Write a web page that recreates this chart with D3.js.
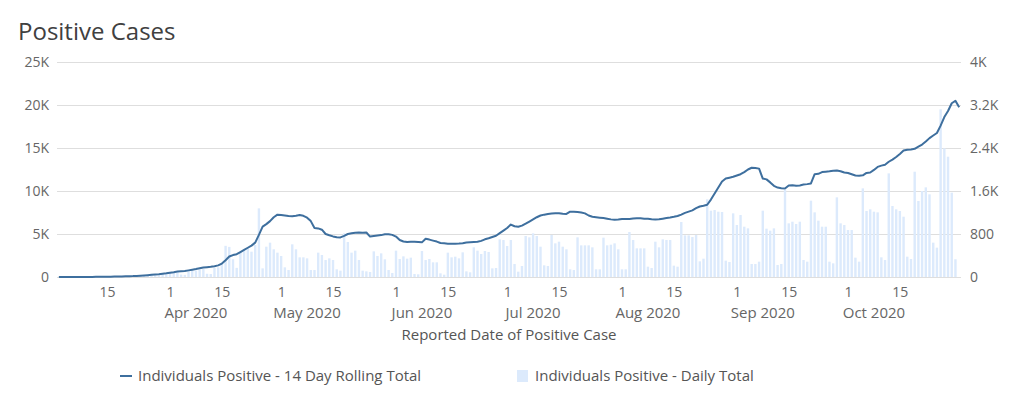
<!DOCTYPE html>
<html lang="en">

<head>
    <meta charset="utf-8" />
    <title>Positive Cases</title>
    <script src="https://cdnjs.cloudflare.com/ajax/libs/d3/7.8.5/d3.min.js"></script>
    <style>
        body { margin: 0; background: #fff; }
        text { font-family: 'Open Sans', sans-serif; }
    </style>
</head>

<body>
    <div id='chart'></div>
</body>
<script>

    // daily total (right axis), one value per day from Mar 2 2020
    let daily = [
        0, 1, 0, 2, 1, 0, 1, 2, 3, 3,
        5, 6, 4, 3, 8, 10, 12, 15, 18, 10,
        9, 25, 30, 38, 45, 52, 30, 28, 70, 75,
        85, 80, 95, 45, 40, 110, 125, 120, 140, 150,
        60, 55, 170, 180, 250, 580, 560, 330, 170, 471,
        502, 533, 471, 595, 1277, 161, 564, 639, 515, 453,
        391, 180, 130, 608, 515, 366, 366, 347, 130, 130,
        453, 409, 316, 347, 316, 143, 118, 812, 651, 453,
        490, 316, 118, 105, 93, 477, 391, 440, 329, 130,
        74, 490, 335, 384, 341, 360, 56, 50, 484, 316,
        335, 273, 273, 68, 43, 453, 366, 378, 347, 459,
        105, 87, 552, 490, 428, 484, 465, 161, 167, 700,
        688, 577, 688, 242, 99, 205, 763, 738, 812, 763,
        564, 217, 205, 781, 626, 657, 564, 515, 143, 130,
        738, 589, 589, 589, 552, 143, 143, 732, 589, 601,
        626, 515, 143, 143, 837, 688, 533, 533, 533, 192,
        167, 657, 552, 701, 688, 688, 211, 192, 1023, 775,
        775, 744, 781, 291, 341, 1445, 1234, 1246, 1215, 1209,
        304, 279, 1184, 967, 1153, 936, 905, 242, 242, 285,
        1234, 899, 862, 905, 223, 242, 1618, 998, 1029, 986,
        1029, 316, 285, 1420, 1203, 1048, 936, 936, 285, 254,
        1482, 998, 967, 874, 874, 360, 285, 1649, 1228, 1259,
        1215, 1203, 366, 316, 1928, 1321, 1259, 1228, 1122, 378,
        335, 1959, 1414, 1600, 1668, 1538, 639, 546, 3119, 2393,
        2238, 1569, 330
    ];

    // 14 day rolling total (left axis), from Mar 2 2020
    let rolling = [
        0, 1, 1, 3, 4, 4, 5, 7, 10, 13,
        18, 24, 28, 31, 39, 48, 59, 72, 87, 95,
        102, 120, 145, 178, 216, 258, 284, 308, 370, 430,
        500, 560, 630, 660, 690, 770, 850, 920, 1010, 1100,
        1140, 1180, 1260, 1350, 1560, 1950, 2380, 2550, 2650, 2900,
        3150, 3400, 3650, 4000, 4900, 5850, 6150, 6500, 6950, 7250,
        7200, 7150, 7100, 7070, 7120, 7200, 7120, 6900, 6500, 5700,
        5650, 5500, 5000, 4850, 4720, 4620, 4600, 4780, 5000, 5080,
        5150, 5160, 5150, 5170, 4700, 4760, 4820, 4870, 4960, 4980,
        4900, 4700, 4300, 4130, 4080, 4090, 4100, 4080, 4030, 4450,
        4350, 4230, 4120, 3950, 3920, 3880, 3870, 3880, 3890, 3920,
        4000, 4030, 4060, 4090, 4200, 4380, 4500, 4650, 4800, 5100,
        5400, 5700, 6100, 5900, 5850, 5970, 6200, 6450, 6700, 6950,
        7150, 7250, 7330, 7380, 7400, 7420, 7350, 7330, 7600, 7580,
        7560, 7500, 7400, 7150, 7000, 6950, 6900, 6850, 6780, 6700,
        6650, 6680, 6750, 6740, 6750, 6800, 6830, 6820, 6780, 6760,
        6720, 6700, 6710, 6780, 6850, 6920, 7000, 7090, 7250, 7450,
        7600, 7750, 8000, 8200, 8280, 8400, 9000, 9700, 10400, 11100,
        11450, 11550, 11650, 11800, 11950, 12200, 12500, 12700, 12680, 12600,
        11450, 11350, 11000, 10600, 10400, 10320, 10300, 10650, 10680, 10600,
        10650, 10750, 10800, 10880, 11950, 12000, 12200, 12250, 12300, 12360,
        12380, 12300, 12150, 12100, 11950, 11800, 11780, 11820, 12100, 12150,
        12450, 12800, 12950, 13050, 13400, 13650, 13950, 14300, 14700, 14800,
        14830, 14900, 15150, 15400, 15750, 16150, 16450, 16750, 17600, 18600,
        19300, 20200, 20500, 19750
    ];

    let leftTicks = [0, 5000, 10000, 15000, 20000, 25000];
    let rightTicks = [0, 800, 1600, 2400, 3200, 4000];
    let months = [3, 4, 5, 6, 7, 8, 9]; // Apr .. Oct (0-based month)

    let startDay = new Date(2020, 2, 2);
    let dayOf = i => d3.timeDay.offset(startDay, i);

    let W = 1023, H = 412;
    let margin = { top: 62, bottom: 135, left: 57, right: 62 };
    let width = W - margin.left - margin.right,
        height = H - margin.top - margin.bottom;

    let svg = d3.select('#chart')
        .append('svg')
        .attr('width', W)
        .attr('height', H);

    svg.append('text')
        .attr('x', 18)
        .attr('y', 40)
        .style('font-size', '24px')
        .style('fill', '#404040')
        .text('Positive Cases');

    let x = d3.scaleTime()
        .domain([new Date(2020, 2, 1, 12), new Date(2020, 9, 31, 12)])
        .range([0, width]);

    let y = d3.scaleLinear()
        .domain([0, 25000])
        .range([height, 0]);

    let y2 = d3.scaleLinear()
        .domain([0, 4000])
        .range([height, 0]);

    let g = svg.append('g')
        .attr('transform', 'translate(' + margin.left + ',' + margin.top + ')');

    // grid + left axis
    let yAxis = d3.axisLeft(y)
        .tickValues(leftTicks)
        .tickSize(-width)
        .tickPadding(8)
        .tickFormat(d => d === 0 ? '0' : d / 1000 + 'K');
    let gy = g.append('g').call(yAxis);
    gy.select('.domain').remove();
    gy.selectAll('line').attr('stroke', '#dedede');
    gy.selectAll('text').style('font-size', '14px').style('fill', '#666');

    let yAxis2 = d3.axisRight(y2)
        .tickValues(rightTicks)
        .tickSize(0)
        .tickPadding(9)
        .tickFormat(d => d === 0 ? '0' : d < 1000 ? d : (d / 1000) + 'K');
    let gy2 = g.append('g')
        .attr('transform', 'translate(' + width + ',0)')
        .call(yAxis2);
    gy2.select('.domain').remove();
    gy2.selectAll('text').style('font-size', '14px').style('fill', '#666');

    // x axis: 1st and 15th of each month
    let tickDates = [];
    for (let m = 2; m <= 9; m++) {
        [1, 15].forEach(d => {
            let t = new Date(2020, m, d);
            if (t > x.domain()[0] && t < x.domain()[1]) tickDates.push(t);
        });
    }
    let xAxis = d3.axisBottom(x)
        .tickValues(tickDates)
        .tickSize(0)
        .tickPadding(10)
        .tickFormat(d => d.getDate());
    let gx = g.append('g')
        .attr('transform', 'translate(0,' + height + ')')
        .call(xAxis);
    gx.select('.domain').remove();
    gx.selectAll('text').style('font-size', '14px').style('fill', '#666');

    let monthFmt = d3.timeFormat('%b %Y');
    g.selectAll('.month')
        .data(months)
        .enter().append('text')
        .attr('class', 'month')
        .attr('x', m => x(new Date(2020, m, 8)))
        .attr('y', height + 41)
        .attr('text-anchor', 'middle')
        .style('font-size', '15px')
        .style('fill', '#666')
        .text(m => monthFmt(new Date(2020, m, 1)));

    g.append('text')
        .attr('x', width / 2)
        .attr('y', height + 63)
        .attr('text-anchor', 'middle')
        .style('font-size', '15px')
        .style('fill', '#555')
        .text('Reported Date of Positive Case');

    // bars
    let bw = 2.4;
    g.selectAll('.bar')
        .data(daily)
        .enter().append('rect')
        .attr('class', 'bar')
        .attr('x', (d, i) => x(dayOf(i)) - bw / 2)
        .attr('y', d => y2(d))
        .attr('width', bw)
        .attr('height', d => height - y2(d))
        .style('fill', '#dceafc');

    // rolling line
    let line = d3.line()
        .x((d, i) => x(dayOf(i)))
        .y(d => y(d));
    g.append('path')
        .datum(rolling)
        .attr('d', line)
        .style('fill', 'none')
        .style('stroke', '#3e6f9e')
        .style('stroke-width', 2)
        .style('stroke-linejoin', 'round');

    // legend
    let lg = svg.append('g');
    lg.append('line')
        .attr('x1', 120).attr('x2', 132)
        .attr('y1', 376).attr('y2', 376)
        .style('stroke', '#3e6f9e')
        .style('stroke-width', 2);
    lg.append('text')
        .attr('x', 138).attr('y', 381)
        .style('font-size', '15px').style('fill', '#555')
        .text('Individuals Positive - 14 Day Rolling Total');
    lg.append('rect')
        .attr('x', 517).attr('y', 370)
        .attr('width', 11).attr('height', 12)
        .style('fill', '#dceafc');
    lg.append('text')
        .attr('x', 535).attr('y', 381)
        .style('font-size', '15px').style('fill', '#555')
        .text('Individuals Positive - Daily Total');

</script>

</html>
